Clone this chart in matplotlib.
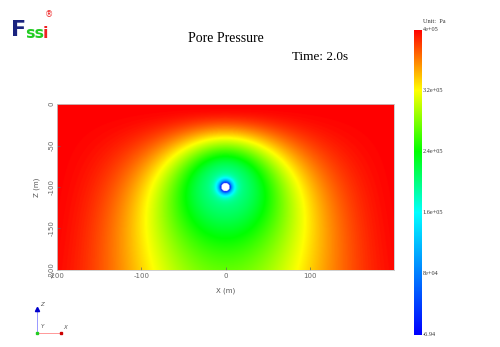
import numpy as np
import matplotlib
matplotlib.use("Agg")
import matplotlib.pyplot as plt
from matplotlib.colors import LinearSegmentedColormap

plt.rcParams["axes.unicode_minus"] = False

# model / scene parameters
x_range = [-200, 200]
z_range = [-200, 0]
tunnel_center = [0.0, -100.0]
tunnel_radius = 5.0
p_far = 4.0e5          # boundary pore pressure (Pa)
p_min = -6.94          # pressure on the tunnel wall (Pa)
bottom_weight = 0.3    # partial no-flow effect of the base
far_share = 0.5        # share of the drawdown carried by the far field
decay_beta = 0.72      # drawdown shape parameters
decay_power = 2.1
skin_length = 4.0      # thickness of the steep zone around the lining (m)

x_ticks = [-200, -100, 0, 100]
z_ticks = [0, -50, -100, -150, -200]
cbar_ticks = [4e5, 3.2e5, 2.4e5, 1.6e5, 8e4, -6.94]
cbar_labels = ["4e+05", "3.2e+05", "2.4e+05", "1.6e+05", "8e+04", "-6.94"]

# drawdown around a tunnel under a constant-head surface (image wells)
xs = np.linspace(x_range[0], x_range[1], 801)
zs = np.linspace(z_range[0], z_range[1], 401)
X, Z = np.meshgrid(xs, zs)
x0, z0 = tunnel_center


def dist(px, pz):
    return np.hypot(X - px, Z - pz) + 1e-9


L = np.log(dist(x0, -z0) / dist(x0, z0))
for sx in (-400, 400):
    L -= np.log(dist(x0 + sx, -z0) / dist(x0 + sx, z0))
L += bottom_weight * np.log(dist(x0, 300) / dist(x0, -300))
L = np.clip(L, 0, None)

s = far_share * (1 - np.exp(-decay_beta * L ** decay_power))
r1 = dist(x0, z0)
s = 1 - (1 - s) * (1 - np.exp(-np.clip(r1 - tunnel_radius, 0, None) / skin_length))
P = p_min + (p_far - p_min) * (1 - s)
P = np.ma.masked_where(r1 < tunnel_radius, P)

cmap = LinearSegmentedColormap.from_list(
    "fssi", [(0.0, "#0000ff"), (0.4, "#00ffff"), (0.6, "#00ff00"),
             (0.8, "#ffff00"), (1.0, "#ff0000")])
cmap.set_bad("white")

fig = plt.figure(figsize=(5.0, 3.47), dpi=100)
ax = fig.add_axes([0.114, 0.222, 0.674, 0.478])
ax.imshow(P, extent=[x_range[0], x_range[1], z_range[0], z_range[1]],
          origin="lower", cmap=cmap, vmin=p_min, vmax=p_far,
          aspect="auto", interpolation="bilinear")
ax.set_xlim(x_range)
ax.set_ylim(z_range)
ax.set_xticks(x_ticks)
ax.set_yticks(z_ticks)
ax.tick_params(labelsize=5, colors="#666666", length=2, width=0.5,
               direction="in", pad=2)
for lab in ax.get_yticklabels():
    lab.set_rotation(90)
    lab.set_va("center")
for sp in ax.spines.values():
    sp.set_color("#c8c8c8")
    sp.set_linewidth(0.6)
ax.set_xlabel("X (m)", fontsize=5, color="#555555", labelpad=6)
ax.set_ylabel("Z (m)", fontsize=5, color="#555555", labelpad=6)

# colour bar
cax = fig.add_axes([0.828, 0.035, 0.016, 0.879])
grad = np.linspace(p_min, p_far, 256).reshape(-1, 1)
cax.imshow(grad, extent=[0, 1, p_min, p_far], origin="lower", cmap=cmap,
           vmin=p_min, vmax=p_far, aspect="auto")
cax.set_xlim(0, 1)
cax.set_ylim(p_min, p_far)
cax.set_xticks([])
cax.set_yticks([])
for sp in cax.spines.values():
    sp.set_visible(False)
for v, t in zip(cbar_ticks, cbar_labels):
    cax.text(1.1, v, t, transform=cax.get_yaxis_transform(), fontsize=4.5,
             family="Liberation Serif", color="#333333", va="center", ha="left")
cax.text(1.1, 1.027, "Unit:  Pa", transform=cax.transAxes, fontsize=4.5,
         family="Liberation Serif", color="#333333", va="center", ha="left")

# titles
fig.text(0.452, 0.89, "Pore Pressure", fontsize=10, family="Liberation Serif",
         ha="center", va="center")
fig.text(0.64, 0.835, "Time: 2.0s", fontsize=9.5, family="Liberation Serif",
         ha="center", va="center")

# logo
fig.text(0.022, 0.913, "F", fontsize=16, fontweight="bold", color="#1a237e",
         family="DejaVu Sans", ha="left", va="center")
fig.text(0.051, 0.903, "ss", fontsize=11.5, fontweight="bold", color="#22cc22",
         family="DejaVu Sans", ha="left", va="center")
fig.text(0.086, 0.903, "i", fontsize=11.5, fontweight="bold", color="#ee2222",
         family="DejaVu Sans", ha="left", va="center")
fig.text(0.089, 0.958, "\u00ae", fontsize=6, color="#ee2222",
         family="DejaVu Sans", ha="left", va="center")

# coordinate triad
tx = fig.add_axes([0.05, 0.02, 0.12, 0.12])
tx.set_xlim(0, 1)
tx.set_ylim(0, 1)
tx.axis("off")
tx.plot([0.2, 0.2], [0.18, 0.78], color="#8888ff", lw=0.6)
tx.plot([0.2, 0.6], [0.18, 0.18], color="#ff8888", lw=0.6)
tx.plot([0.2], [0.75], marker="^", color="#0000cc", ms=3)
tx.plot([0.6], [0.18], marker="s", color="#cc0000", ms=2)
tx.plot([0.2], [0.18], marker="s", color="#22cc22", ms=2)
tx.text(0.26, 0.82, "Z", fontsize=4, color="#555555", style="italic")
tx.text(0.26, 0.28, "Y", fontsize=4, color="#555555", style="italic")
tx.text(0.64, 0.26, "X", fontsize=4, color="#555555", style="italic")

fig.savefig("out.png", dpi=100)
